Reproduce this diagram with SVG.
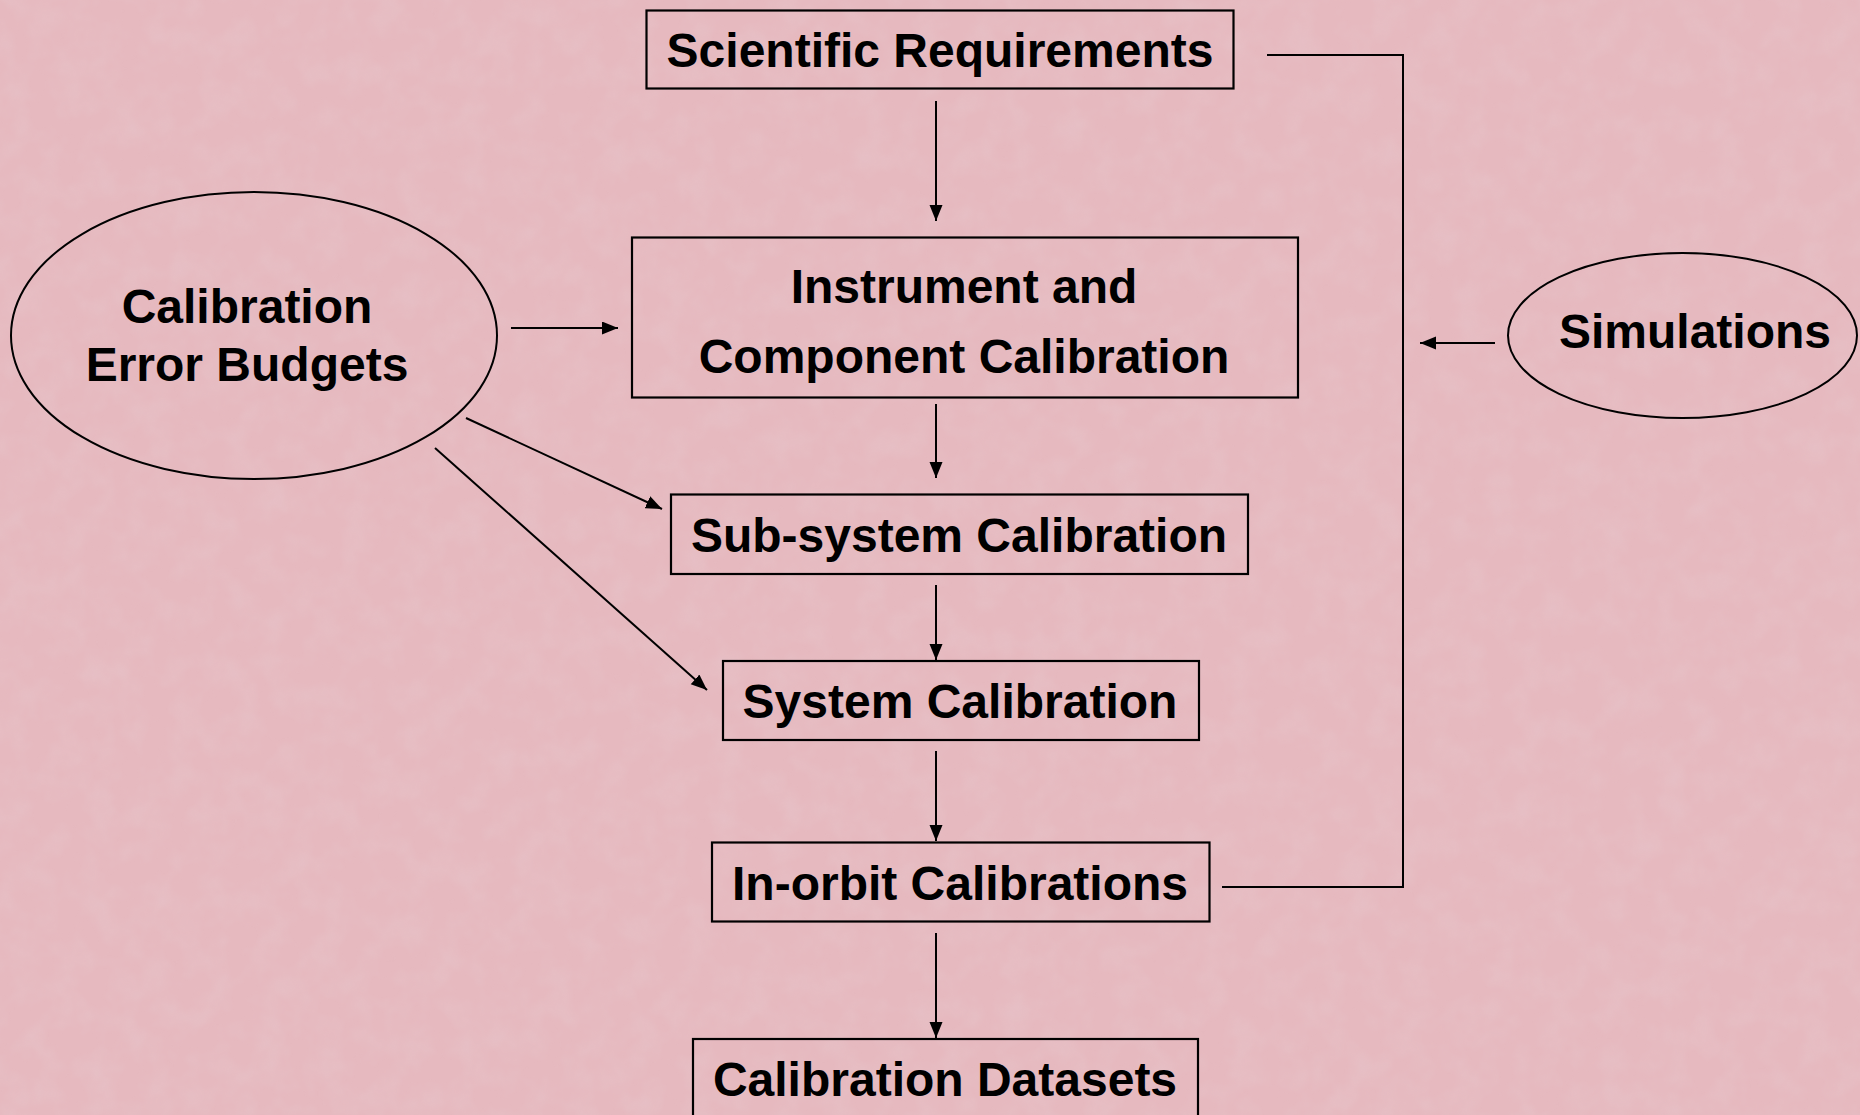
<svg xmlns="http://www.w3.org/2000/svg" width="1860" height="1115" viewBox="0 0 1860 1115">
<style>
.box{fill:none;stroke:#000;stroke-width:2.2}
.ell{fill:none;stroke:#000;stroke-width:2}
.lbl{font-family:"Liberation Sans",Arial,sans-serif;font-weight:bold;font-size:48px;fill:#000;text-anchor:middle}
.con{fill:none;stroke:#000;stroke-width:2}
.arr{marker-end:url(#ah)}
</style>
<defs>
<marker id="ah" markerUnits="userSpaceOnUse" markerWidth="17" markerHeight="14" refX="16" refY="6.5" orient="auto">
<path d="M0,0 L16,6.5 L0,13 z" fill="#000"/>
</marker>
<filter id="tex" x="0" y="0" width="100%" height="100%">
<feTurbulence type="fractalNoise" baseFrequency="0.035" numOctaves="3" seed="7" result="n"/>
<feColorMatrix in="n" type="matrix" values="0 0 0 0 0.8  0 0 0 0 0.58  0 0 0 0 0.62  0 0 0 1.2 -0.45" result="c"/>
<feComposite in="c" in2="SourceGraphic" operator="in"/>
</filter>
</defs>
<rect width="1860" height="1115" fill="#E6B9BF"/>
<rect width="1860" height="1115" fill="#E6B9BF" filter="url(#tex)" opacity="0.6"/>

<g id="connectors">
<line class="con arr" x1="936" y1="101" x2="936" y2="221"/>
<line class="con arr" x1="936" y1="404" x2="936" y2="478"/>
<line class="con arr" x1="936" y1="585" x2="936" y2="660"/>
<line class="con arr" x1="936" y1="751" x2="936" y2="841"/>
<line class="con arr" x1="936" y1="933" x2="936" y2="1038"/>
<line class="con arr" x1="511" y1="328" x2="618" y2="328"/>
<line class="con arr" x1="466" y1="418" x2="662" y2="509"/>
<line class="con arr" x1="435" y1="448" x2="707" y2="690"/>
<polyline class="con" points="1222,887 1403,887 1403,55 1267,55"/>
<line class="con arr" x1="1495" y1="343" x2="1420" y2="343"/>
</g>

<g id="scientific-requirements">
<rect class="box" x="646.5" y="10.5" width="587" height="78"/>
<text class="lbl" x="940" y="67">Scientific Requirements</text>
</g>

<g id="instrument-component-calibration">
<rect class="box" x="632" y="237.5" width="666" height="160"/>
<text class="lbl" x="964" y="303">Instrument and</text>
<text class="lbl" x="964" y="373">Component Calibration</text>
</g>

<g id="subsystem-calibration">
<rect class="box" x="671" y="494.5" width="577" height="79.5"/>
<text class="lbl" x="959" y="552">Sub-system Calibration</text>
</g>

<g id="system-calibration">
<rect class="box" x="723" y="661" width="476" height="79"/>
<text class="lbl" x="960" y="718">System Calibration</text>
</g>

<g id="inorbit-calibrations">
<rect class="box" x="712" y="842.5" width="497.5" height="79"/>
<text class="lbl" x="960" y="900">In-orbit Calibrations</text>
</g>

<g id="calibration-datasets">
<rect class="box" x="693" y="1039" width="505" height="90"/>
<text class="lbl" x="945" y="1096">Calibration Datasets</text>
</g>

<g id="calibration-error-budgets">
<ellipse class="ell" cx="254" cy="335.5" rx="243" ry="143.5"/>
<text class="lbl" x="247" y="323">Calibration</text>
<text class="lbl" x="247" y="381">Error Budgets</text>
</g>

<g id="simulations">
<ellipse class="ell" cx="1682.5" cy="335.5" rx="174.5" ry="82.5"/>
<text class="lbl" x="1695" y="348">Simulations</text>
</g>
</svg>
